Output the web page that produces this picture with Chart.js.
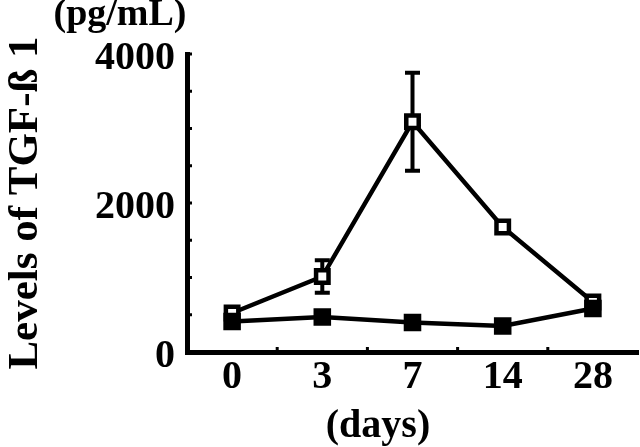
<!DOCTYPE html>
<html>
<head>
<meta charset="utf-8">
<script src="https://cdn.jsdelivr.net/npm/chart.js@4"></script>
<style>
  body { margin: 0; background: #fff; }
  canvas { display: block; }
</style>
</head>
<body>
<canvas id="myChart" width="640" height="447"></canvas>
<script>
// data
const days = ["0", "3", "7", "14", "28"];
const openValues = [523, 1013, 3090, 1678, 671];
const openErrors = [0, 218, 658, 0, 0];
const filledValues = [410, 470, 396, 349, 585];
const yLabelValues = [0, 2000, 4000];

const serif = "'Liberation Serif', 'Times New Roman', serif";

// error bars for the open series, drawn under the markers
const errorBars = {
  id: 'errorBars',
  beforeDatasetsDraw(chart) {
    const { ctx, scales: { x, y } } = chart;
    ctx.save();
    ctx.strokeStyle = '#000';
    ctx.lineWidth = 4;
    openErrors.forEach((e, i) => {
      if (!e) return;
      const px = x.getPixelForValue(i);
      const top = y.getPixelForValue(openValues[i] + e);
      const bot = y.getPixelForValue(openValues[i] - e);
      ctx.beginPath();
      ctx.moveTo(px, top); ctx.lineTo(px, bot);
      ctx.moveTo(px - 7.5, top); ctx.lineTo(px + 7.5, top);
      ctx.moveTo(px - 7.5, bot); ctx.lineTo(px + 7.5, bot);
      ctx.stroke();
    });
    ctx.restore();
  }
};

// small inward tick marks + free-standing unit labels
const extras = {
  id: 'extras',
  afterDraw(chart) {
    const { ctx, scales: { x, y }, chartArea } = chart;
    ctx.save();
    ctx.fillStyle = '#000';
    y.ticks.forEach(t => {
      if (t.value === 0) return;
      const py = y.getPixelForValue(t.value);
      ctx.fillRect(chartArea.left + 2, py - 1.5, 3, 3);
    });
    for (let i = 0; i < days.length - 1; i++) {
      const px = (x.getPixelForValue(i) + x.getPixelForValue(i + 1)) / 2;
      ctx.fillRect(px - 1.5, chartArea.bottom - 5, 3, 3);
    }
    ctx.font = 'bold 38px ' + serif;
    ctx.textAlign = 'center';
    ctx.textBaseline = 'middle';
    ctx.fillText('(pg/mL)', 120, 15);
    ctx.font = 'bold 40px ' + serif;
    ctx.fillText('(days)', 378, 427);
    ctx.restore();
  }
};

const data = {
  labels: days,
  datasets: [
    {
      label: 'open',
      data: openValues,
      borderColor: '#000',
      borderWidth: 4.5,
      pointStyle: 'rect',
      pointRadius: 8.8,
      pointBorderWidth: 4.5,
      pointBackgroundColor: '#fff',
      pointBorderColor: '#000',
      order: 2
    },
    {
      label: 'filled',
      data: filledValues,
      borderColor: '#000',
      borderWidth: 4.5,
      pointStyle: 'rect',
      pointRadius: 11,
      pointBorderWidth: 2,
      pointBackgroundColor: '#000',
      pointBorderColor: '#000',
      order: 1
    }
  ]
};

const options = {
  responsive: false,
  animation: false,
  layout: { autoPadding: false, padding: { top: 54, right: 2, left: 0, bottom: 0 } },
  plugins: {
    legend: { display: false },
    tooltip: { enabled: false }
  },
  scales: {
    x: {
      offset: true,
      grid: { drawOnChartArea: false, drawTicks: false },
      border: { color: '#000', width: 5 },
      ticks: {
        color: '#000',
        padding: 2,
        font: { family: serif, size: 40, weight: 'bold' }
      },
      afterFit: s => {
        s.height = 95;
        s.paddingLeft = 0;
        s.paddingRight = 0;
      }
    },
    y: {
      min: 0,
      max: 4000,
      grid: { drawOnChartArea: false, drawTicks: false },
      border: { color: '#000', width: 5 },
      ticks: {
        stepSize: 500,
        color: '#000',
        padding: 12,
        labelOffset: 5,
        autoSkip: false,
        font: { family: serif, size: 40, weight: 'bold' },
        callback: v => yLabelValues.includes(v) ? String(v) : ''
      },
      title: {
        display: true,
        text: 'Levels of TGF-ß 1',
        color: '#000',
        padding: 0,
        font: { family: serif, size: 43, weight: 'bold' }
      },
      afterFit: s => {
        s.width = 187;
        s.paddingTop = 0;
        s.paddingBottom = 0;
      }
    }
  }
};

const config = {
  type: 'line',
  data,
  options,
  plugins: [errorBars, extras]
};

const myChart = new Chart(document.getElementById('myChart'), config);
</script>
</body>
</html>
